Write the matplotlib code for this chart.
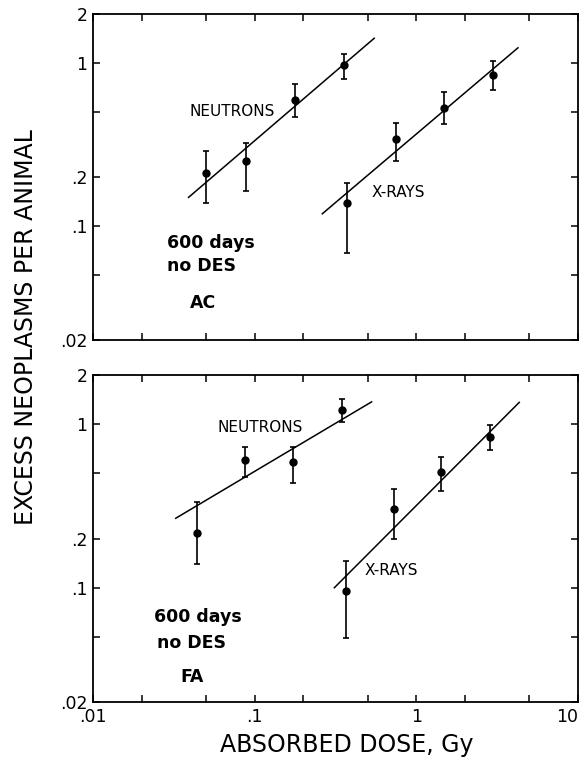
import matplotlib
matplotlib.use("Agg")
from matplotlib import pyplot as plt
from matplotlib import ticker

# Dose (Gy) and excess neoplasms per animal
# --- AC panel ---
ac_neut_dose = [0.050, 0.089, 0.178, 0.358]
ac_neut_val = [0.211, 0.250, 0.593, 0.973]
ac_neut_lo = [0.139, 0.164, 0.469, 0.798]
ac_neut_hi = [0.290, 0.322, 0.741, 1.137]
ac_neut_fit_x = [0.039, 0.549]
ac_neut_fit_y = [0.150, 1.42]

ac_xray_dose = [0.374, 0.748, 1.49, 3.00]
ac_xray_val = [0.138, 0.344, 0.532, 0.845]
ac_xray_lo = [0.0687, 0.250, 0.421, 0.684]
ac_xray_hi = [0.183, 0.431, 0.664, 1.026]
ac_xray_fit_x = [0.262, 4.25]
ac_xray_fit_y = [0.119, 1.24]

# --- FA panel ---
fa_neut_dose = [0.0438, 0.087, 0.172, 0.345]
fa_neut_val = [0.217, 0.604, 0.587, 1.23]
fa_neut_lo = [0.139, 0.478, 0.435, 1.036]
fa_neut_hi = [0.334, 0.729, 0.724, 1.42]
fa_neut_fit_x = [0.0325, 0.529]
fa_neut_fit_y = [0.266, 1.37]

fa_xray_dose = [0.365, 0.73, 1.43, 2.86]
fa_xray_val = [0.0955, 0.303, 0.513, 0.84]
fa_xray_lo = [0.0495, 0.198, 0.392, 0.695]
fa_xray_hi = [0.146, 0.404, 0.630, 0.990]
fa_xray_fit_x = [0.311, 4.33]
fa_xray_fit_y = [0.100, 1.36]

x_ticks = [0.01, 0.02, 0.05, 0.1, 0.2, 0.5, 1, 2, 5, 10]
x_labels = [".01", "", "", ".1", "", "", "1", "", "", "10"]
y_ticks = [0.02, 0.05, 0.1, 0.2, 0.5, 1, 2]
y_labels = [".02", "", ".1", ".2", "", "1", "2"]

plt.rcParams["font.family"] = ["DejaVu Sans"]


def draw_series(axis, dose, val, lo, hi, fit_x, fit_y):
    """Points with asymmetric error bars plus the fitted line"""
    yerr = [[v - l for v, l in zip(val, lo)], [h - v for v, h in zip(val, hi)]]
    axis.errorbar(dose, val, yerr=yerr, fmt="o", color="black", markersize=5,
                  elinewidth=1.2, capsize=2.5, capthick=1.2)
    axis.plot(fit_x, fit_y, color="black", linewidth=1.1)


def setup_axis(axis, show_xlabels):
    axis.set_xscale("log")
    axis.set_yscale("log")
    axis.set_xlim(0.01, 10)
    axis.set_ylim(0.02, 2)
    axis.xaxis.set_major_locator(ticker.FixedLocator(x_ticks))
    axis.yaxis.set_major_locator(ticker.FixedLocator(y_ticks))
    axis.xaxis.set_minor_locator(ticker.NullLocator())
    axis.yaxis.set_minor_locator(ticker.NullLocator())
    axis.set_yticklabels(y_labels)
    if show_xlabels:
        axis.set_xticklabels(x_labels)
        # the last label sits against the figure edge
        axis.get_xticklabels()[-1].set_horizontalalignment("right")
    else:
        axis.set_xticklabels([])
    axis.tick_params(direction="in", length=5, width=1.1, top=True, right=True,
                     labelsize=12.5, pad=4)
    for spine in axis.spines.values():
        spine.set_linewidth(1.3)


def panel_notes(axis, neut_xy, xray_xy, note_rows):
    axis.text(neut_xy[0], neut_xy[1], "NEUTRONS", transform=axis.transAxes,
              ha="center", va="center", fontsize=11)
    axis.text(xray_xy[0], xray_xy[1], "X-RAYS", transform=axis.transAxes,
              ha="center", va="center", fontsize=11)
    for x, y, txt in note_rows:
        axis.text(x, y, txt, transform=axis.transAxes, ha="left", va="center",
                  fontsize=12.5, fontweight="bold")


fig = plt.figure(figsize=(5.8, 7.73), dpi=100)
ax_top = fig.add_axes([0.1603, 0.5601, 0.8363, 0.4218])
ax_bot = fig.add_axes([0.1603, 0.0918, 0.8363, 0.4231])

# Top panel (AC)
draw_series(ax_top, ac_neut_dose, ac_neut_val, ac_neut_lo, ac_neut_hi, ac_neut_fit_x, ac_neut_fit_y)
draw_series(ax_top, ac_xray_dose, ac_xray_val, ac_xray_lo, ac_xray_hi, ac_xray_fit_x, ac_xray_fit_y)
setup_axis(ax_top, False)
panel_notes(ax_top, (0.286, 0.700), (0.629, 0.453),
            [(0.153, 0.298, "600 days"), (0.153, 0.227, "no DES"), (0.200, 0.113, "AC")])

# Bottom panel (FA)
draw_series(ax_bot, fa_neut_dose, fa_neut_val, fa_neut_lo, fa_neut_hi, fa_neut_fit_x, fa_neut_fit_y)
draw_series(ax_bot, fa_xray_dose, fa_xray_val, fa_xray_lo, fa_xray_hi, fa_xray_fit_x, fa_xray_fit_y)
setup_axis(ax_bot, True)
panel_notes(ax_bot, (0.344, 0.840), (0.614, 0.401),
            [(0.126, 0.261, "600 days"), (0.132, 0.181, "no DES"), (0.181, 0.076, "FA")])

fig.text(0.045, 0.577, "EXCESS NEOPLASMS PER ANIMAL", rotation=90, ha="center", va="center",
         fontsize=17)
fig.text(0.598, 0.036, "ABSORBED DOSE, Gy", ha="center", va="center", fontsize=17)

fig.savefig("out.png", dpi=100)
